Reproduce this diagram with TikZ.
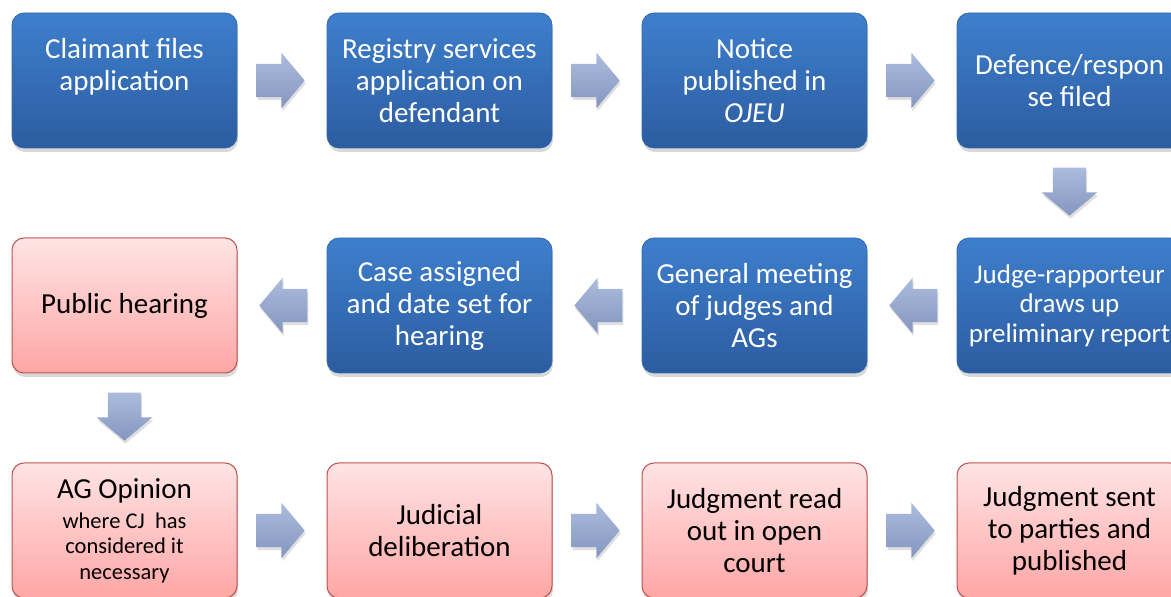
\documentclass[tikz,border=0pt]{standalone}
\usepackage{fontspec}
\setmainfont{Carlito}
\usetikzlibrary{positioning,shapes.arrows,shadows,calc}
\definecolor{bluetop}{RGB}{62,127,205}
\definecolor{bluebot}{RGB}{44,92,160}
\definecolor{blueline}{RGB}{52,104,172}
\definecolor{pinktop}{RGB}{255,228,228}
\definecolor{pinkbot}{RGB}{255,166,166}
\definecolor{pinkline}{RGB}{192,80,77}
\definecolor{arrtop}{RGB}{172,188,221}
\definecolor{arrbot}{RGB}{132,150,192}
\newcommand{\agnote}{\fontsize{22.5}{25.5}\selectfont}

\begin{document}
\begin{tikzpicture}[x=1pt, y=1pt,
  box/.style={rectangle, rounded corners=12pt, minimum width=225pt, minimum height=135pt,
    align=center, inner sep=0pt, outer sep=0pt, font=\fontsize{29}{32}\selectfont,
    drop shadow={shadow xshift=1pt, shadow yshift=-4pt, opacity=0.3}},
  bluebox/.style={box, draw=blueline, line width=0.8pt, top color=bluetop, bottom color=bluebot, text=white},
  pinkbox/.style={box, draw=pinkline, line width=1pt, top color=pinktop, bottom color=pinkbot, text=black},
  blockarr/.style={single arrow, anchor=tail, minimum height=48pt, minimum width=55pt, inner xsep=0pt, inner ysep=16.5pt,
    single arrow head extend=11pt, single arrow tip angle=100, top color=arrtop, bottom color=arrbot,
    drop shadow={shadow xshift=1pt, shadow yshift=-3pt, opacity=0.25}}]
\useasboundingbox (0,0) rectangle (1171,597);
\clip (0,0) rectangle (1171,597);

% first row
\node[bluebox] (claim) at (124.5,516.5) {Claimant files\\application\\~};
\node[bluebox, right=90pt of claim] (serve) {Registry services\\application on\\defendant};
\node[bluebox, right=90pt of serve] (notice) {Notice\\published in\\\textit{OJEU}};
\node[bluebox, right=90pt of notice] (defence) {Defence/respon\\se filed};

% second row
\node[bluebox, below=90pt of defence, font=\fontsize{27}{29.5}\selectfont] (report) {Judge-rapporteur\\draws up\\preliminary report};
\node[bluebox, left=90pt of report] (meeting) {General meeting\\of judges and\\AGs};
\node[bluebox, left=90pt of meeting] (assign) {Case assigned\\and date set for\\hearing};
\node[pinkbox, left=90pt of assign] (hearing) {Public hearing};

% third row
\node[pinkbox, below=90pt of hearing] (opinion) {AG Opinion\\[-2pt]{\agnote where CJ\ \ has}\\[-6.5pt]{\agnote considered it}\\[-6.5pt]{\agnote necessary}};
\node[pinkbox, right=90pt of opinion] (deliberation) {Judicial\\deliberation};
\node[pinkbox, right=90pt of deliberation] (readout) {Judgment read\\out in open\\court};
\node[pinkbox, right=90pt of readout] (published) {Judgment sent\\to parties and\\published};

% block arrows
\foreach \a in {claim, serve, notice, opinion, deliberation, readout}
  \node[blockarr] (\a-arr) at ($(\a.east)+(19.5,0)$) {};
\foreach \a in {report, meeting, assign}
  \node[blockarr, shape border rotate=180] (\a-arr) at ($(\a.west)+(-19.5,0)$) {};
\foreach \a in {defence, hearing}
  \node[blockarr, shape border rotate=270, inner xsep=16.5pt, inner ysep=0pt] (\a-arr) at ($(\a.south)+(0,-19.5)$) {};
\end{tikzpicture}
\end{document}
